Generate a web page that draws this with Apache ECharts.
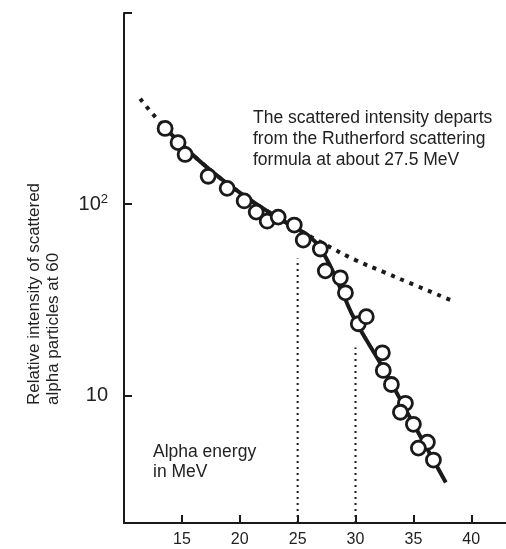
<!DOCTYPE html>
<html>
<head>
<meta charset="utf-8">
<script src="https://cdn.jsdelivr.net/npm/echarts@6/dist/echarts.min.js"></script>
<style>
  html, body { margin: 0; padding: 0; background: #fff; }
  #chart { width: 506px; height: 549px; }
</style>
</head>
<body>
<div id="chart"></div>
<script>
// measured points (alpha energy in MeV, relative intensity)
const pointEnergy = [13.55, 14.67, 15.28, 17.27, 18.91, 20.38, 21.42, 22.37, 23.32, 24.71,
  25.48, 26.96, 27.39, 28.69, 29.13, 30.24, 30.93, 32.32, 32.40, 33.10,
  34.31, 33.88, 35.00, 36.21, 35.43, 36.73];
const pointIntensity = [249, 210, 182, 140, 121, 104, 90.9, 81.5, 85.6, 77.8,
  64.9, 58.3, 44.8, 41.2, 34.4, 23.7, 25.8, 16.7, 13.5, 11.4,
  9.09, 8.16, 7.06, 5.69, 5.30, 4.59];

// solid line through the measurements
const fitEnergy = [13.5, 15, 17.5, 20, 22.5, 25, 26, 27, 28, 29, 30, 32.5, 35, 37.8];
const fitIntensity = [252, 205, 150, 115, 91, 74, 68, 58, 45, 33, 24.5, 13.5, 7.1, 3.5];

// dotted Rutherford curve
const rutherfordEnergy = [11.4, 13, 15, 17.5, 20, 22.5, 25, 27.5, 30, 32.5, 35, 38.5];
const rutherfordIntensity = [356, 273, 205, 150, 115, 91, 74, 61, 51, 44, 38, 31];

// vertical guide lines
const guideEnergy = [25, 30];
const guideTop = [52, 17.8];

const xTicks = [15, 20, 25, 30, 35, 40];
const yTicks = [10, 100, 1000];
const yLabels = [10, 100];

const yMin = 2.15;
const ink = '#1a1a1a';
const font = 'Liberation Sans, Arial, sans-serif';

const chart = echarts.init(document.getElementById('chart'));

const guideSeries = guideEnergy.map((e, i) => ({
  type: 'line',
  data: [[e, yMin], [e, guideTop[i]]],
  symbol: 'none',
  silent: true,
  lineStyle: { color: ink, width: 2, type: [2, 4] },
  z: 1
}));

chart.setOption({
  animation: false,
  grid: { left: 124, top: 13, right: 0, bottom: 26 },
  xAxis: {
    type: 'value',
    min: 10,
    max: 43,
    splitLine: { show: false },
    axisLine: { lineStyle: { color: ink, width: 2 } },
    axisTick: { inside: true, length: 8, customValues: xTicks, lineStyle: { color: ink, width: 2 } },
    axisLabel: { customValues: xTicks, color: '#222', fontSize: 16, fontFamily: font, margin: 9 }
  },
  yAxis: {
    type: 'log',
    logBase: 10,
    min: yMin,
    max: 1000,
    splitLine: { show: false },
    axisLine: { lineStyle: { color: ink, width: 2 } },
    axisTick: { inside: true, length: 8, customValues: yTicks, lineStyle: { color: ink, width: 2 } },
    axisLabel: {
      customValues: yLabels,
      color: '#222',
      fontSize: 20,
      fontFamily: font,
      margin: 16,
      formatter: v => (Math.round(v) === 100 ? '{b|10}{s|2}' : '{b|10}'),
      rich: {
        b: { fontSize: 20, fontFamily: font, color: '#222', lineHeight: 22 },
        s: { fontSize: 13, fontFamily: font, color: '#222', verticalAlign: 'top', lineHeight: 13 }
      }
    }
  },
  series: [
    ...guideSeries,
    {
      type: 'line',
      data: rutherfordEnergy.map((e, i) => [e, rutherfordIntensity[i]]),
      smooth: true,
      symbol: 'none',
      lineStyle: { color: ink, width: 4, type: [4, 6], cap: 'butt' },
      z: 2
    },
    {
      type: 'line',
      data: fitEnergy.map((e, i) => [e, fitIntensity[i]]),
      smooth: true,
      symbol: 'none',
      lineStyle: { color: ink, width: 4 },
      z: 3
    },
    {
      type: 'scatter',
      data: pointEnergy.map((e, i) => [e, pointIntensity[i]]),
      symbol: 'circle',
      symbolSize: 14,
      itemStyle: { color: '#fff', borderColor: ink, borderWidth: 2.8, opacity: 1 },
      z: 4
    }
  ],
  graphic: [
    {
      type: 'text',
      x: 253,
      y: 108,
      style: {
        text: 'The scattered intensity departs\nfrom the Rutherford scattering\nformula at about 27.5 MeV',
        font: '17.5px ' + font,
        fill: '#222',
        lineHeight: 21,
        textAlign: 'left',
        textVerticalAlign: 'top'
      }
    },
    {
      type: 'text',
      x: 153,
      y: 442,
      style: {
        text: 'Alpha energy\nin MeV',
        font: '17.5px ' + font,
        fill: '#222',
        lineHeight: 20,
        textAlign: 'left',
        textVerticalAlign: 'top'
      }
    },
    {
      type: 'text',
      x: 44,
      y: 405,
      rotation: Math.PI / 2,
      style: {
        text: 'Relative intensity of scattered\nalpha particles at 60',
        font: '17px ' + font,
        fill: '#222',
        lineHeight: 19,
        textAlign: 'left',
        textVerticalAlign: 'middle'
      }
    }
  ]
});
</script>
</body>
</html>
